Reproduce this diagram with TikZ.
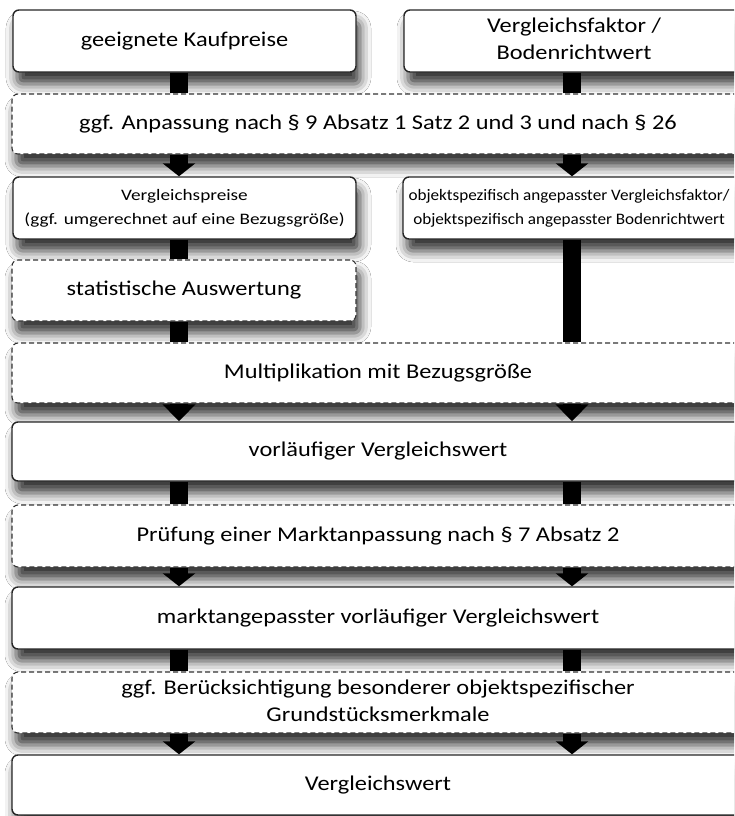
\documentclass[tikz,border=0pt]{standalone}
\usepackage{fontspec}
\setmainfont{Carlito}
\usetikzlibrary{arrows.meta,shadows.blur}
\newcommand\mtxt[1]{\scalebox{1.16}[1]{\begin{tabular}{@{}c@{}}#1\end{tabular}}}
\newcommand\stxt[2][1.2]{\scalebox{#1}[1]{\begin{tabular}{@{}c@{}}#2\end{tabular}}}
\begin{document}
\begin{tikzpicture}[x=1pt,y=-1pt,
  box/.style={draw=black!85, line width=1.4pt, rounded corners=6pt, fill=white,
    blur shadow={shadow xshift=4pt, shadow yshift=-12pt, shadow blur radius=11pt, shadow opacity=80},
    align=center, inner sep=0pt, font=\fontsize{21}{27}\selectfont},
  dbox/.style={box, dash pattern=on 5pt off 3pt, line width=1.1pt, draw=black!80},
  small/.style={font=\fontsize{16}{24}\selectfont},
  sq/.style={draw=black, line width=18pt},
  arr/.style={draw=black, line width=18pt, -{Triangle[length=13pt,width=32pt]}},
  tri/.style={draw=black, line width=18pt, -{Triangle[length=17pt,width=32pt]}}]
\useasboundingbox (0,0) rectangle (734,816);
\clip (0,0) rectangle (734,816);
\fill[white] (0,0) rectangle (734,816);
\coordinate (cl) at (179,0);
\coordinate (cr) at (572,0);
% nodes
\node[box, minimum width=343pt, minimum height=62pt] (n1) at (184.5,41) {\mtxt{geeignete Kaufpreise}};
\node[box, minimum width=340pt, minimum height=62pt] (n2) at (574,41) {\mtxt{Vergleichsfaktor /\\Bodenrichtwert}};
\node[dbox, minimum width=732pt, minimum height=60pt] (n3) at (378,124) {\mtxt{ggf. Anpassung nach § 9 Absatz 1 Satz 2 und 3 und nach § 26}};
\node[box, small, minimum width=343pt, minimum height=62pt] (n4) at (184.5,208) {\stxt{Vergleichspreise\\(ggf. umgerechnet auf eine Bezugsgröße)}};
\node[box, small, minimum width=342pt, minimum height=62pt] (n5) at (574,208) {\stxt[1.07]{objektspezifisch angepasster Vergleichsfaktor/\\objektspezifisch angepasster Bodenrichtwert}\hspace*{10pt}};
\node[dbox, minimum width=344pt, minimum height=61pt] (n6) at (184,290.5) {\mtxt{statistische Auswertung}};
\node[dbox, minimum width=732pt, minimum height=60pt] (n7) at (378,373) {\mtxt{Multiplikation mit Bezugsgröße}};
\node[box, minimum width=732pt, minimum height=59pt] (n8) at (378,451.5) {\mtxt{vorläufiger Vergleichswert}};
\node[dbox, minimum width=732pt, minimum height=62pt] (n9) at (378,536) {\mtxt{Prüfung einer Marktanpassung nach § 7 Absatz 2}};
\node[box, minimum width=732pt, minimum height=62pt] (n10) at (378,618) {\mtxt{marktangepasster vorläufiger Vergleichswert}};
\node[dbox, minimum width=732pt, minimum height=61pt] (n11) at (378,702.5) {\mtxt{ggf. Berücksichtigung besonderer objektspezifischer\\Grundstücksmerkmale}};
\node[box, minimum width=732pt, minimum height=60pt] (n12) at (378,785) {\mtxt{Vergleichswert}};
% connectors
\draw[sq] (n1.south -| cl) -- (n3.north -| cl);
\draw[sq] (n2.south -| cr) -- (n3.north -| cr);
\draw[arr] (n3.south -| cl) -- (n4.north -| cl);
\draw[arr] (n3.south -| cr) -- (n5.north -| cr);
\draw[sq] (n4.south -| cl) -- (n6.north -| cl);
\draw[sq] (n6.south -| cl) -- (n7.north -| cl);
\draw[sq] (n5.south -| cr) -- (n7.north -| cr);
\draw[tri] (n7.south -| cl) -- (n8.north -| cl);
\draw[tri] (n7.south -| cr) -- (n8.north -| cr);
\draw[sq] (n8.south -| cl) -- (n9.north -| cl);
\draw[sq] (n8.south -| cr) -- (n9.north -| cr);
\draw[arr] (n9.south -| cl) -- (n10.north -| cl);
\draw[arr] (n9.south -| cr) -- (n10.north -| cr);
\draw[sq] (n10.south -| cl) -- (n11.north -| cl);
\draw[sq] (n10.south -| cr) -- (n11.north -| cr);
\draw[arr] (n11.south -| cl) -- (n12.north -| cl);
\draw[arr] (n11.south -| cr) -- (n12.north -| cr);
\end{tikzpicture}
\end{document}
